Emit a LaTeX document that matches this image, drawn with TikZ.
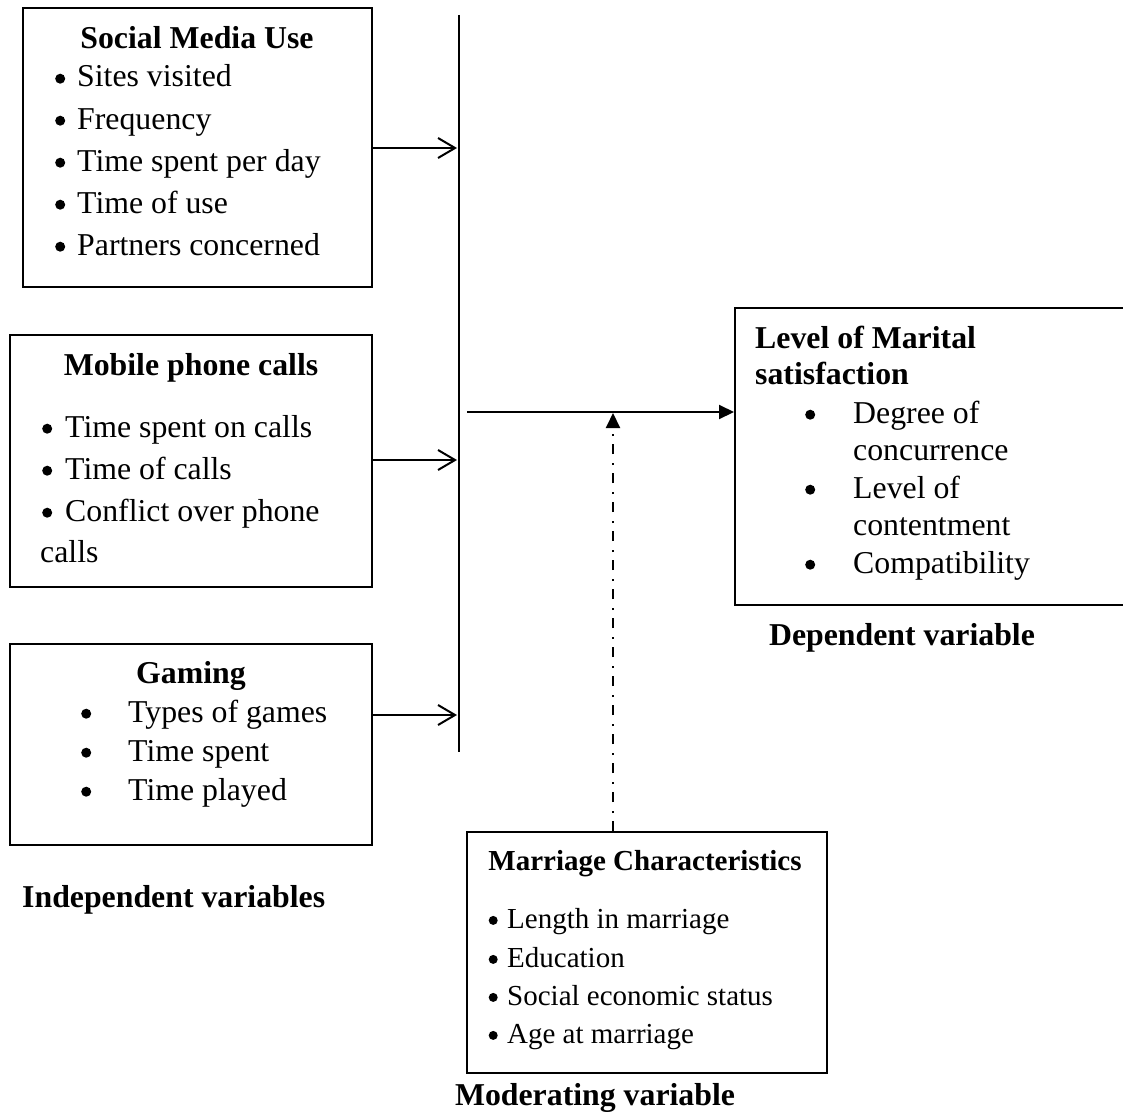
\documentclass[tikz,border=0pt]{standalone}
\usepackage{fontspec}
\setmainfont{Liberation Serif}
\usetikzlibrary{arrows.meta}
\newcommand\bdot{\tikz[baseline=0pt,x=1pt,y=1pt]\fill (5,8.3) circle[radius=5];}
\newcommand\sbdot{\tikz[baseline=0pt,x=1pt,y=1pt]\fill (4.5,7.6) circle[radius=4.5];}
\newcommand\mybul[2]{\makebox[#1pt][l]{\bdot}#2}
\newcommand\mysbul[2]{\makebox[#1pt][l]{\sbdot}#2}
\begin{document}
\begin{tikzpicture}[x=1pt,y=-1pt,
  box/.style={draw, line width=2pt, inner sep=0pt},
  txt/.style={anchor=base west, inner sep=0pt, font=\fontsize{31.8}{38}\selectfont},
  ttl/.style={anchor=base, inner sep=0pt, font=\fontsize{31.8}{38}\selectfont\bfseries},
  ttlw/.style={anchor=base west, inner sep=0pt, font=\fontsize{31.8}{38}\selectfont\bfseries},
  stxt/.style={anchor=base west, inner sep=0pt, font=\fontsize{29}{35}\selectfont},
  sttl/.style={anchor=base, inner sep=0pt, font=\fontsize{29}{35}\selectfont\bfseries},
  oarr/.style={line width=2pt, -{Straight Barb[length=17pt,width=20pt,line width=2pt]}},
  farr/.style={line width=2pt, -{Triangle[length=15pt,width=14pt]}},
  ddarr/.style={farr, dash pattern=on 10pt off 8pt on 2pt off 9pt},
]
\useasboundingbox (0,0) rectangle (1123,1113);

% boxes
\node[box, minimum width=349pt, minimum height=279pt] (smu) at (197.5,147.5) {};
\node[box, minimum width=362pt, minimum height=252pt] (mpc) at (191,461) {};
\node[box, minimum width=362pt, minimum height=201pt] (gam) at (191,744.5) {};
\node[box, minimum width=360pt, minimum height=241pt] (mc) at (647,952.5) {};
\node[box, minimum width=405pt, minimum height=297pt] (dv) at (937.5,456.5) {};

% Social Media Use
\node[ttl] (t1) at (197,49) {Social Media Use};
\node[txt] (a1) at (55,87) {\mybul{22}{Sites visited}};
\node[txt] (a2) at (55,129) {\mybul{22}{Frequency}};
\node[txt] (a3) at (55,171) {\mybul{22}{Time spent per day}};
\node[txt] (a4) at (55,213) {\mybul{22}{Time of use}};
\node[txt] (a5) at (55,255) {\mybul{22}{Partners concerned}};

% Mobile phone calls
\node[ttl] (t2) at (191,375) {Mobile phone calls};
\node[txt] (b1) at (42,437) {\mybul{23}{Time spent on calls}};
\node[txt] (b2) at (42,479) {\mybul{23}{Time of calls}};
\node[txt] (b3) at (42,521) {\mybul{23}{Conflict over phone}};
\node[txt] (b4) at (40,562) {calls};

% Gaming
\node[ttl] (t3) at (191,683) {Gaming};
\node[txt] (c1) at (81,722) {\mybul{47}{Types of games}};
\node[txt] (c2) at (81,761) {\mybul{47}{Time spent}};
\node[txt] (c3) at (81,800) {\mybul{47}{Time played}};

\node[ttlw] (iv) at (22,907) {Independent variables};

% Dependent variable
\node[ttlw] (t4) at (755,348) {Level of Marital};
\node[ttlw] (t4b) at (755,384) {satisfaction};
\node[txt] (d1) at (805,423) {\mybul{48}{Degree of}};
\node[txt] (d1b) at (853,460) {concurrence};
\node[txt] (d2) at (805,498) {\mybul{48}{Level of}};
\node[txt] (d2b) at (853,535) {contentment};
\node[txt] (d3) at (805,573) {\mybul{48}{Compatibility}};
\node[ttl] (dvl) at (902,645) {Dependent variable};

% Moderating variable
\node[sttl] (t5) at (645,870) {Marriage Characteristics};
\node[stxt] (e1) at (488.5,928) {\mysbul{18.5}{Length in marriage}};
\node[stxt] (e2) at (488.5,967) {\mysbul{18.5}{Education}};
\node[stxt] (e3) at (488.5,1005) {\mysbul{18.5}{Social economic status}};
\node[stxt] (e4) at (488.5,1043) {\mysbul{18.5}{Age at marriage}};
\node[ttl] (mvl) at (595,1105) {Moderating variable};

% connectors
\coordinate (vtop) at (459,15);
\coordinate (vbot) at (459,752);
\draw[line width=1.3pt] (vtop) -- (vbot);

\coordinate (v1) at (457,148);
\coordinate (v2) at (457,460);
\coordinate (v3) at (457,715);
\draw[oarr] (smu.east |- v1) -- (v1);
\draw[oarr] (mpc.east |- v2) -- (v2);
\draw[oarr] (gam.east |- v3) -- (v3);

\coordinate (hs) at (467,412);
\draw[farr] (hs) -- (hs -| dv.west);

\coordinate (dm) at (613,413);
\draw[ddarr] (mc.north -| dm) -- (dm);
\end{tikzpicture}
\end{document}
